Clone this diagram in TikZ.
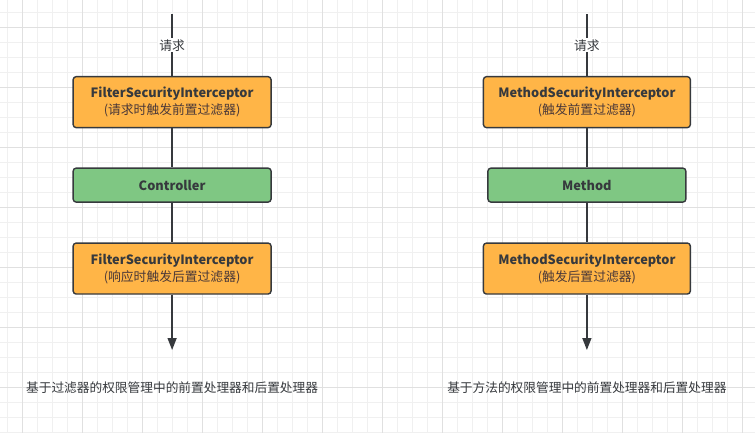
\documentclass[tikz,border=0pt]{standalone}
\usepackage{fontspec}
\setmainfont{Noto Sans CJK SC}
\usetikzlibrary{arrows.meta}

\definecolor{filterorange}{HTML}{FFB547}
\definecolor{callgreen}{HTML}{7FC783}
\definecolor{edgegray}{HTML}{36393D}
\definecolor{subtext}{HTML}{4A3838}
\definecolor{gridminor}{HTML}{F0F0F0}
\definecolor{gridmajor}{HTML}{E0E0E0}

\begin{document}
\begin{tikzpicture}[x=1pt,y=-1pt,
        interceptor/.style = {draw=edgegray, line width=1.4pt,
            rounded corners=3pt, fill=filterorange,
            minimum width=198pt, minimum height=51pt,
            align=center, text=edgegray,
            font=\fontsize{12.8}{17}\selectfont},
        handler/.style = {interceptor, fill=callgreen,
            minimum height=34pt},
        flow/.style = {draw=edgegray, line width=1.4pt},
        request/.style = {fill=white, inner sep=1pt, text=edgegray,
            font=\fontsize{12.8}{14}\selectfont},
        note/.style = {text=edgegray, font=\fontsize{12.7}{14}\selectfont}]

    % Background grid
    \fill[white] (0,0) rectangle (755,433);
    \foreach \x in {7,22,...,755} \draw[gridminor] (\x,0) -- (\x,433);
    \foreach \y in {12,27,...,433} \draw[gridminor] (0,\y) -- (755,\y);
    \foreach \x in {22,82,...,755} \draw[gridmajor] (\x,0) -- (\x,433);
    \foreach \y in {27,87,...,433} \draw[gridmajor] (0,\y) -- (755,\y);
    \useasboundingbox (0,0) rectangle (755,433);

    % Filter chain
    \coordinate (filterin) at (172,14);
    \coordinate (filterout) at (172,350);
    \node[interceptor] (filterpre) at (172,102)
        {\textbf{FilterSecurityInterceptor}\\{\color{subtext}(请求时触发前置过滤器)}};
    \node[handler] (controller) at (172,185) {\textbf{Controller}};
    \node[interceptor] (filterpost) at (172,268.5)
        {\textbf{FilterSecurityInterceptor}\\{\color{subtext}(响应时触发后置过滤器)}};

    \draw[flow] (filterin) -- (filterpre);
    \node[request] (filterreq) at (172,45) {请求};
    \draw[flow] (filterpre) -- (controller);
    \draw[flow] (controller) -- (filterpost);
    \draw[flow,-{Triangle[width=9pt,length=12pt]}] (filterpost) -- (filterout);

    % Method chain
    \coordinate (methodin) at (587,14);
    \coordinate (methodout) at (587,350);
    \node[interceptor,minimum width=207pt] (methodpre) at (587,102)
        {\textbf{MethodSecurityInterceptor}\\{\color{subtext}(触发前置过滤器)}};
    \node[handler] (method) at (587,185) {\textbf{Method}};
    \node[interceptor,minimum width=207pt] (methodpost) at (587,268.5)
        {\textbf{MethodSecurityInterceptor}\\{\color{subtext}(触发后置过滤器)}};

    \draw[flow] (methodin) -- (methodpre);
    \node[request] (methodreq) at (587,45) {请求};
    \draw[flow] (methodpre) -- (method);
    \draw[flow] (method) -- (methodpost);
    \draw[flow,-{Triangle[width=9pt,length=12pt]}] (methodpost) -- (methodout);

    % Captions
    \node[note] (filternote) at (172,388) {基于过滤器的权限管理中的前置处理器和后置处理器};
    \node[note] (methodnote) at (587,388) {基于方法的权限管理中的前置处理器和后置处理器};

\end{tikzpicture}
\end{document}
